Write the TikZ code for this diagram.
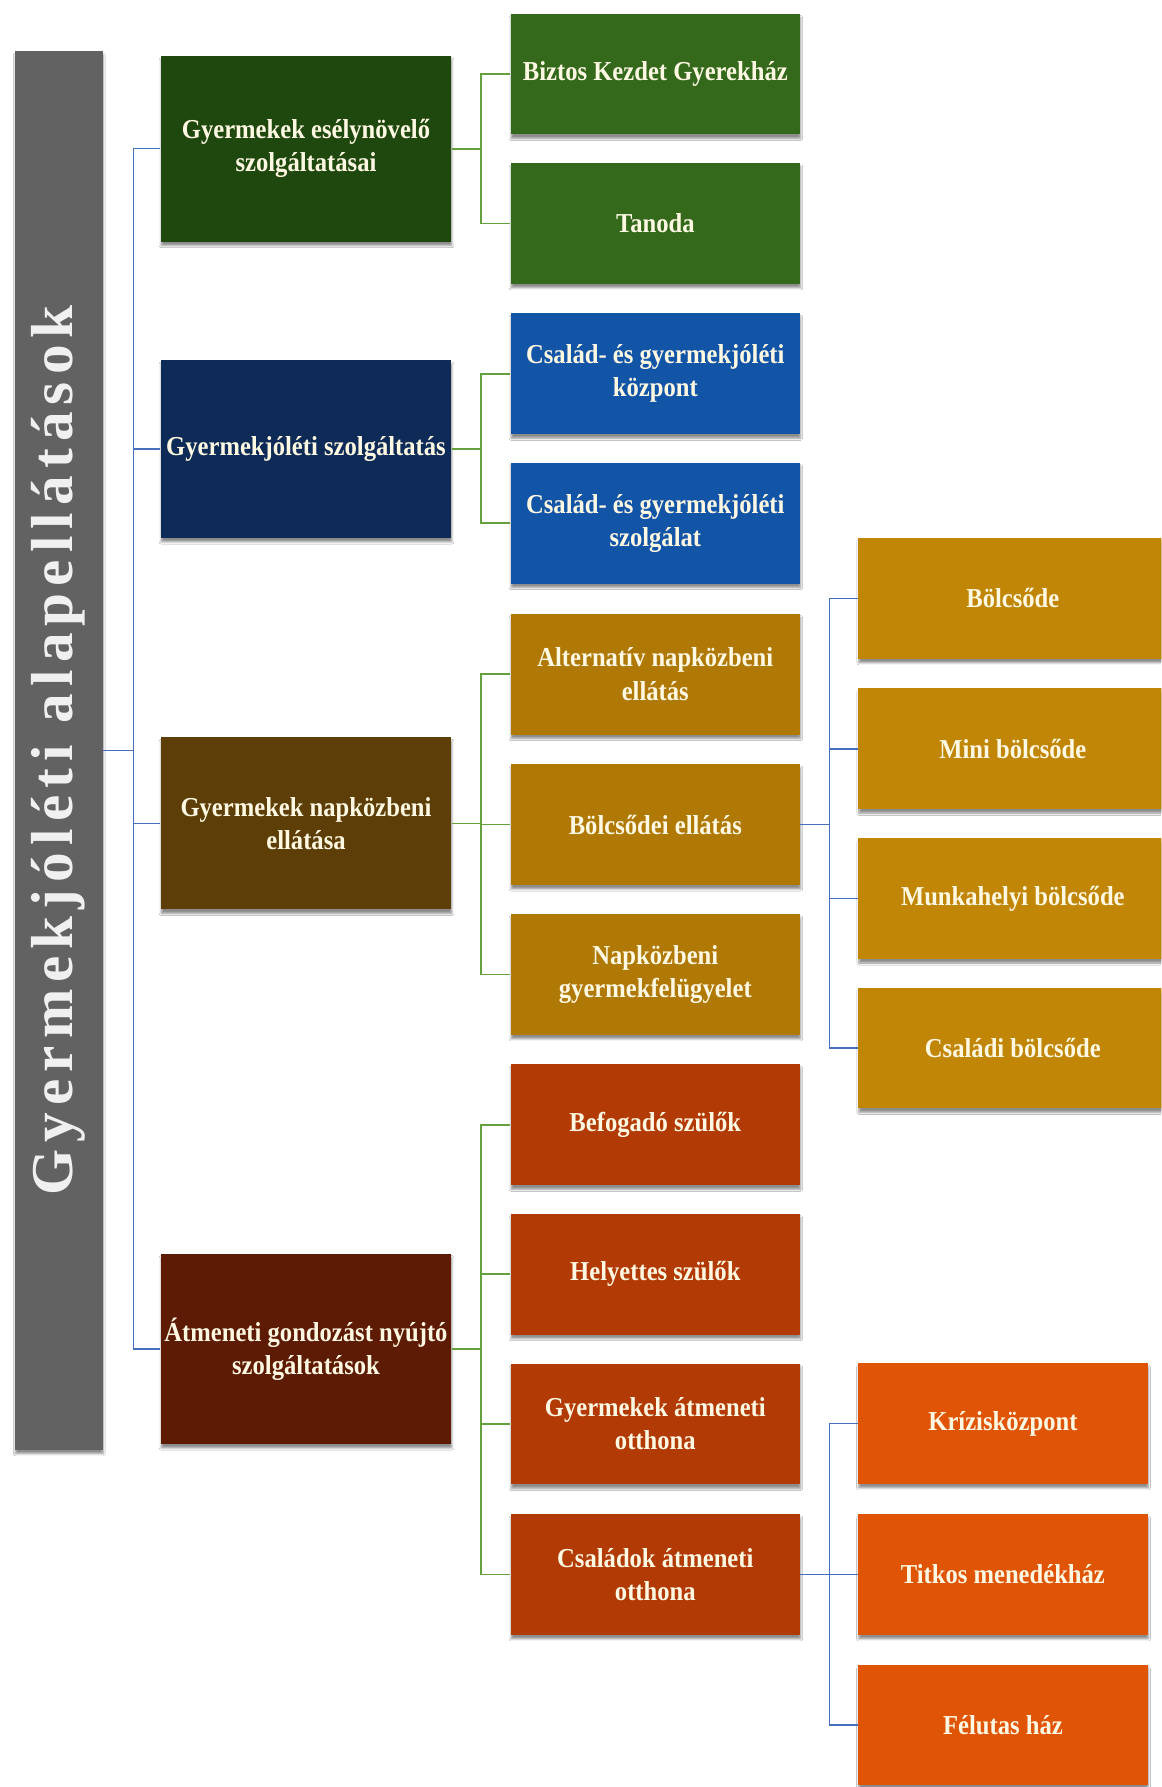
\documentclass[tikz,border=0pt]{standalone}
\usepackage{fontspec}
\setmainfont[FakeStretch=0.9]{Liberation Serif}
\newfontfamily\titlefont[LetterSpace=12]{Liberation Serif}
\usetikzlibrary{shadows.blur}
\definecolor{graybar}{RGB}{98,98,98}
\definecolor{titletxt}{RGB}{240,240,240}
\definecolor{txt}{RGB}{255,249,228}
\definecolor{gA}{RGB}{31,72,14}
\definecolor{gB}{RGB}{52,105,28}
\definecolor{bA}{RGB}{13,43,86}
\definecolor{bB}{RGB}{18,84,165}
\definecolor{yA}{RGB}{93,62,6}
\definecolor{yB}{RGB}{176,121,6}
\definecolor{yC}{RGB}{193,134,5}
\definecolor{rA}{RGB}{94,27,4}
\definecolor{rB}{RGB}{178,58,4}
\definecolor{rC}{RGB}{224,84,6}
\definecolor{lineblue}{RGB}{70,112,190}
\definecolor{linegreen}{RGB}{100,160,60}
\tikzset{
  base/.style={rectangle, inner sep=0pt, align=center, text=txt,
    font=\bfseries\fontsize{24}{29}\selectfont,
    blur shadow={shadow xshift=0.5pt, shadow yshift=-3.5pt, shadow blur steps=6, shadow opacity=45}},
  lvlone/.style={base, minimum width=255pt},
  lvltwo/.style={base, minimum width=254pt, minimum height=106pt},
  lvlthree/.style={base, minimum width=278pt, minimum height=106pt},
  lvlcrisis/.style={base, minimum width=254pt, minimum height=106pt},
  blueline/.style={draw=lineblue, line width=1.3pt},
  greenline/.style={draw=linegreen, line width=1.5pt}
}
\begin{document}
\begin{tikzpicture}[x=1pt,y=-1pt]
\clip (0,0) rectangle (1019,1568);
\fill[white] (0,0) rectangle (1019,1568);
% root bar
\node[rotate=90, fill=graybar, minimum width=1227pt, minimum height=77pt, inner sep=0pt,
  blur shadow={shadow xshift=0.5pt, shadow yshift=-3.5pt, shadow blur steps=6, shadow opacity=45}]
  (root) at (51.5,658.5) {\titlefont\bfseries\fontsize{52}{56}\selectfont\color{titletxt}Gyermekjóléti alapellátások};
% level one
\node[lvlone, fill=gA, minimum height=163pt] (A) at (268.5,130.5) {Gyermekek esélynövelő\\szolgáltatásai};
\node[lvlone, fill=bA, minimum height=156pt] (B) at (268.5,394) {Gyermekjóléti szolgáltatás};
\node[lvlone, fill=yA, minimum height=151pt] (C) at (268.5,722.5) {Gyermekek napközbeni\\ellátása};
\node[lvlone, fill=rA, minimum height=167pt] (D) at (268.5,1183.5) {Átmeneti gondozást nyújtó\\szolgáltatások};
% level two
\node[lvltwo, fill=gB] (a1) at (575,65) {Biztos Kezdet Gyerekház};
\node[lvltwo, fill=gB] (a2) at (575,196) {Tanoda};
\node[lvltwo, fill=bB] (b1) at (575,328) {Család- és gyermekjóléti\\központ};
\node[lvltwo, fill=bB] (b2) at (575,459) {Család- és gyermekjóléti\\szolgálat};
\node[lvltwo, fill=yB] (c1) at (575,591.5) {Alternatív napközbeni\\ellátás};
\node[lvltwo, fill=yB] (c2) at (575,723.5) {Bölcsődei ellátás};
\node[lvltwo, fill=yB] (c3) at (575,855) {Napközbeni\\gyermekfelügyelet};
\node[lvltwo, fill=rB] (d1) at (575,987) {Befogadó szülők};
\node[lvltwo, fill=rB] (d2) at (575,1118) {Helyettes szülők};
\node[lvltwo, fill=rB] (d3) at (575,1249.5) {Gyermekek átmeneti\\otthona};
\node[lvltwo, fill=rB] (d4) at (575,1381.5) {Családok átmeneti\\otthona};
% level three
\node[lvlthree, fill=yC, anchor=west] (e1) at (753,525) {\hspace*{-7pt}Bölcsőde};
\node[lvlthree, fill=yC, anchor=west] (e2) at (753,657) {\hspace*{-7pt}Mini bölcsőde};
\node[lvlthree, fill=yC, anchor=west] (e3) at (753,788.5) {\hspace*{-7pt}Munkahelyi bölcsőde};
\node[lvlthree, fill=yC, anchor=west] (e4) at (753,919.5) {\hspace*{-7pt}Családi bölcsőde};
\node[lvlcrisis, fill=rC] (f1) at (880,1249) {Krízisközpont};
\node[lvlcrisis, fill=rC] (f2) at (880,1381.5) {Titkos menedékház};
\node[lvlcrisis, fill=rC] (f3) at (880,1513.5) {Félutas ház};
% connector coordinates
\coordinate (tx) at (117,0);
\coordinate (gx) at (422,0);
\coordinate (hx) at (728,0);
% root connectors
\draw[blueline] (root.south) -- (root.south -| tx);
\draw[blueline] (A.west) -- (A.west -| tx) -- (D.west -| tx) -- (D.west);
\draw[blueline] (B.west -| tx) -- (B.west);
\draw[blueline] (C.west -| tx) -- (C.west);
% level one -> two
\draw[greenline] (A.east) -- (A.east -| gx) |- (a1.west);
\draw[greenline] (A.east -| gx) |- (a2.west);
\draw[greenline] (B.east) -- (B.east -| gx) |- (b1.west);
\draw[greenline] (B.east -| gx) |- (b2.west);
\draw[greenline] (C.east) -- (C.east -| gx) |- (c1.west);
\draw[greenline] (C.east -| gx) |- (c2.west);
\draw[greenline] (C.east -| gx) |- (c3.west);
\draw[greenline] (D.east) -- (D.east -| gx) |- (d1.west);
\draw[greenline] (D.east -| gx) |- (d2.west);
\draw[greenline] (D.east -| gx) |- (d3.west);
\draw[greenline] (D.east -| gx) |- (d4.west);
% level two -> three
\draw[blueline] (c2.east) -- (c2.east -| hx) |- (e1.west);
\draw[blueline] (c2.east -| hx) |- (e2.west);
\draw[blueline] (c2.east -| hx) |- (e3.west);
\draw[blueline] (c2.east -| hx) |- (e4.west);
\draw[blueline] (d4.east) -- (d4.east -| hx) |- (f1.west);
\draw[blueline] (d4.east -| hx) |- (f2.west);
\draw[blueline] (d4.east -| hx) |- (f3.west);
\end{tikzpicture}
\end{document}
